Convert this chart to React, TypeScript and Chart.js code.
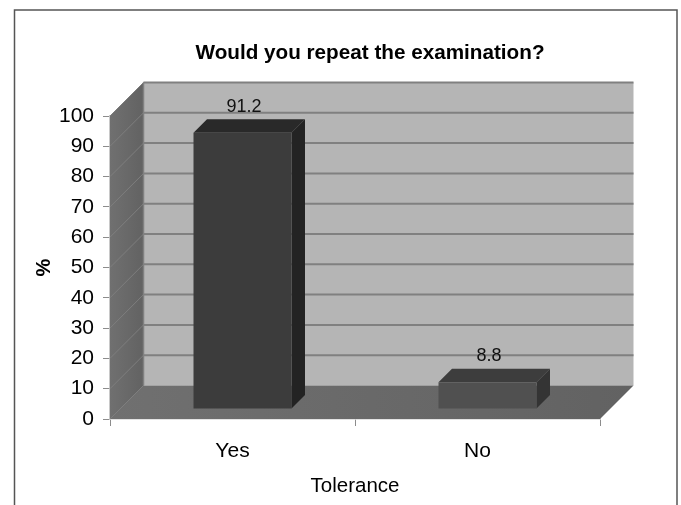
import React, { useEffect, useRef } from "react";
import { Chart, registerables } from "chart.js";

Chart.register(...registerables);

const categories = ["Yes", "No"];
const percentages = [91.2, 8.8];
const frontColors = ["#3c3c3c", "#505050"];
const topColors = ["#292929", "#3d3d3d"];
const sideColors = ["#232323", "#343434"];
const chartTitle = "Would you repeat the examination?";
const xAxisTitle = "Tolerance";
const yAxisTitle = "%";

const FONT = "'Liberation Sans', Arial, sans-serif";
const WALL_DEPTH = 33.5; // how far the back wall sits behind the axis plane
const BAR_OFFSET = 10; // front face of the bars, measured from the axis plane
const BAR_DEPTH = 13.5;

function poly(ctx: CanvasRenderingContext2D, pts: number[][], fill: string) {
  ctx.beginPath();
  pts.forEach(([x, y], i) => (i ? ctx.lineTo(x, y) : ctx.moveTo(x, y)));
  ctx.closePath();
  ctx.fillStyle = fill;
  ctx.fill();
}

const box3d = {
  id: "box3d",
  beforeDatasetsDraw(chart: any) {
    const { ctx, chartArea: a, scales } = chart;
    const d = WALL_DEPTH;
    ctx.save();

    // outer frame
    ctx.strokeStyle = "#555555";
    ctx.lineWidth = 1.5;
    ctx.beginPath();
    ctx.moveTo(14.5, 505);
    ctx.lineTo(14.5, 10);
    ctx.lineTo(677, 10);
    ctx.lineTo(677, 505);
    ctx.stroke();

    // back wall
    poly(ctx, [[a.left + d, a.top - d], [a.right + d, a.top - d], [a.right + d, a.bottom - d], [a.left + d, a.bottom - d]], "#b5b5b5");

    // left wall
    const side = ctx.createLinearGradient(a.left, 0, a.left + d, 0);
    side.addColorStop(0, "#707070");
    side.addColorStop(1, "#626262");
    poly(ctx, [[a.left, a.top], [a.left + d, a.top - d], [a.left + d, a.bottom - d], [a.left, a.bottom]], side);

    // floor
    const floor = ctx.createLinearGradient(a.left, 0, a.right + d, 0);
    floor.addColorStop(0, "#707070");
    floor.addColorStop(1, "#626262");
    poly(ctx, [[a.left, a.bottom], [a.left + d, a.bottom - d], [a.right + d, a.bottom - d], [a.right, a.bottom]], floor);

    // gridlines run along the left wall and across the back wall
    for (const tick of scales.y.ticks) {
      const y = scales.y.getPixelForValue(tick.value);
      if (tick.value > 0) {
        ctx.strokeStyle = "#808080";
        ctx.lineWidth = 2;
        ctx.beginPath();
        ctx.moveTo(a.left + d, y - d);
        ctx.lineTo(a.right + d, y - d);
        ctx.stroke();
      }
      ctx.strokeStyle = "#7e7e7e";
      ctx.lineWidth = 1;
      ctx.beginPath();
      ctx.moveTo(a.left, y);
      ctx.lineTo(a.left + d, y - d);
      ctx.stroke();
    }

    ctx.strokeStyle = "#808080";
    ctx.lineWidth = 1.5;
    ctx.beginPath();
    ctx.moveTo(a.left + d, a.bottom - d);
    ctx.lineTo(a.left + d, a.top - d);
    ctx.stroke();
    ctx.restore();
  },
  beforeDatasetDraw(chart: any, args: any) {
    const { ctx } = chart;
    ctx.save();
    ctx.translate(BAR_OFFSET, -BAR_OFFSET);
    const depth = BAR_DEPTH;
    args.meta.data.forEach((bar: any, i: number) => {
      const l = bar.x - bar.width / 2;
      const r = bar.x + bar.width / 2;
      poly(ctx, [[l, bar.y], [l + depth, bar.y - depth], [r + depth, bar.y - depth], [r, bar.y]], topColors[i]);
      poly(ctx, [[r, bar.y], [r + depth, bar.y - depth], [r + depth, bar.base - depth], [r, bar.base]], sideColors[i]);
    });
  },
  afterDatasetDraw(chart: any) {
    chart.ctx.restore();
  },
  afterDatasetsDraw(chart: any) {
    const { ctx, chartArea: a } = chart;
    const meta = chart.getDatasetMeta(0);
    ctx.save();
    ctx.fillStyle = "#111111";
    ctx.textAlign = "center";
    ctx.textBaseline = "middle";
    ctx.font = `18px ${FONT}`;
    meta.data.forEach((bar: any, i: number) => {
      ctx.fillText(String(percentages[i]), bar.x + BAR_OFFSET + 1.5, bar.y - BAR_OFFSET - 26);
    });
    ctx.font = `bold 20.7px ${FONT}`;
    ctx.fillStyle = "#000000";
    ctx.fillText(chartTitle, (a.left + a.right) / 2 + 15, 53);
    ctx.restore();
  },
};

export default function App() {
  const ref = useRef<HTMLCanvasElement>(null);

  useEffect(() => {
    document.body.style.margin = "0";
    const chart = new Chart(ref.current!, {
      type: "bar",
      data: {
        labels: categories,
        datasets: [
          {
            data: percentages,
            backgroundColor: frontColors,
            barPercentage: 0.4,
            categoryPercentage: 1,
          },
        ],
      },
      plugins: [box3d],
      options: {
        responsive: false,
        animation: false,
        events: [],
        layout: { padding: { left: 32, right: 81, top: 116, bottom: 0 } },
        plugins: { legend: { display: false }, title: { display: false }, tooltip: { enabled: false } },
        scales: {
          x: {
            afterFit: (s: any) => { s.height = 86; },
            grid: { drawOnChartArea: false, drawTicks: true, tickLength: 7, tickColor: "#8c8c8c", offset: true },
            border: { color: "#c8c8c8", width: 1.5 },
            ticks: { color: "#000000", padding: 13, font: { family: FONT, size: 21 }, maxRotation: 0 },
            title: { display: true, text: xAxisTitle, color: "#000000", padding: { top: 4, bottom: 6 }, font: { family: FONT, size: 20.5 } },
          },
          y: {
            min: 0,
            max: 100,
            afterFit: (s: any) => { s.width = 78; },
            grid: { drawOnChartArea: false, drawTicks: true, tickLength: 7, tickColor: "#8c8c8c" },
            border: { color: "#c8c8c8", width: 1.5 },
            ticks: { stepSize: 10, color: "#000000", padding: 9, font: { family: FONT, size: 21 } },
            title: { display: true, text: yAxisTitle, color: "#000000", padding: 0, font: { family: FONT, size: 20, weight: "bold" } },
          },
        },
      },
    } as any);
    return () => chart.destroy();
  }, []);

  return <canvas ref={ref} width={681} height={505} style={{ display: "block" }} />;
}
